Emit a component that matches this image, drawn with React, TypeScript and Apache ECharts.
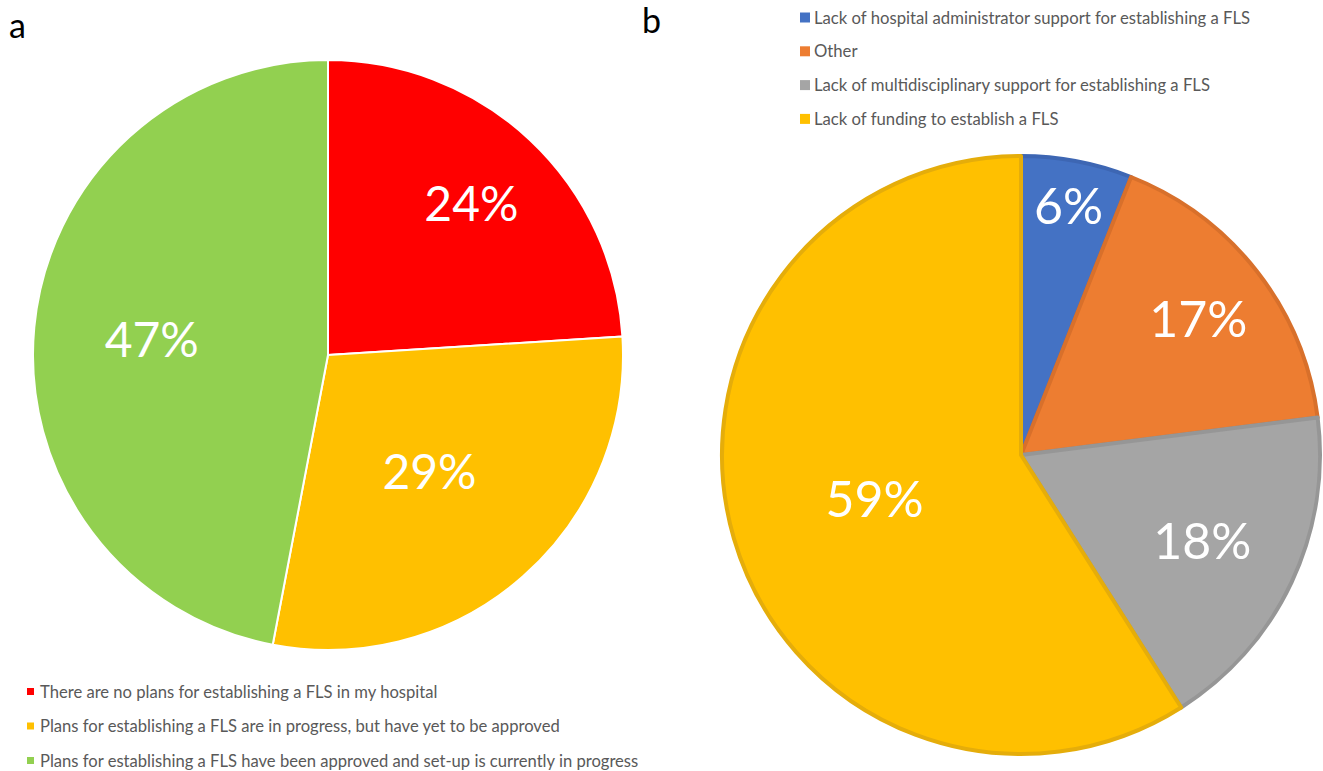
import React, { useEffect, useRef } from "react";
import * as echarts from "echarts";

// Panel a
const categoriesA = [
  "There are no plans for establishing a FLS in my hospital",
  "Plans for establishing a FLS are in progress, but have yet to be approved",
  "Plans for establishing a FLS have been approved and set-up is currently in progress",
];
const valuesA = [24, 29, 47];

// Panel b
const categoriesB = [
  "Lack of hospital administrator support for establishing a FLS",
  "Other",
  "Lack of multidisciplinary support for establishing a FLS",
  "Lack of funding to establish a FLS",
];
const valuesB = [6, 17, 18, 59];

const colorsA = ["#FF0000", "#FFC000", "#92D050"];
const colorsB = ["#4472C4", "#ED7D31", "#A5A5A5", "#FFC000"];
const bordersB = ["#3D66B3", "#D8702B", "#969696", "#E5AD0A"];

// radial label placement (fraction of radius), like Excel's best fit
const labelPosA = [0.7, 0.51, 0.59];
const labelPosB = [0.84, 0.74, 0.66, 0.5];

const FONT = "Lato, 'Open Sans', sans-serif";

function labelSeries(
  cats: string[],
  vals: number[],
  center: number[],
  R: number,
  factors: number[],
  fontSize: number
) {
  return factors.map((f, i) => ({
    type: "pie",
    center,
    radius: f >= 0.5 ? [(2 * f - 1) * R, R] : [0, 2 * f * R],
    startAngle: 90,
    silent: true,
    avoidLabelOverlap: false,
    legendHoverLink: false,
    z: 5,
    itemStyle: { color: "rgba(0,0,0,0)", borderWidth: 0 },
    labelLine: { show: false },
    emphasis: { disabled: true },
    data: vals.map((v, j) => ({
      value: v,
      name: cats[j],
      label: {
        show: j === i,
        position: "inside",
        formatter: (p: any) => `${p.value}%`,
        color: "#FFFFFF",
        fontSize,
        fontFamily: FONT,
        fontWeight: "normal",
      },
    })),
  }));
}

export default function App() {
  const ref = useRef<HTMLDivElement>(null);

  useEffect(() => {
    if (!ref.current) return;
    const chart = echarts.init(ref.current, null, { renderer: "svg" });
    const centerA = [328, 355];
    const RA = 295;
    const centerB = [1021, 455];
    const RB = 299;

    const option: any = {
      animation: false,
      backgroundColor: "#FFFFFF",
      title: [
        {
          text: "a",
          left: 9,
          top: 7,
          padding: 0,
          textStyle: { fontSize: 34, fontWeight: "normal", color: "#000", fontFamily: FONT },
        },
        {
          text: "b",
          left: 642,
          top: 2,
          padding: 0,
          textStyle: { fontSize: 34, fontWeight: "normal", color: "#000", fontFamily: FONT },
        },
      ],
      legend: [
        {
          data: categoriesA,
          orient: "vertical",
          left: 22,
          top: 678,
          height: 100,
          icon: "rect",
          itemWidth: 7,
          itemHeight: 7,
          itemGap: 17.5,
          selectedMode: false,
          itemStyle: { borderWidth: 0 },
          textStyle: { color: "#595959", fontSize: 16.6, fontFamily: FONT, padding: [0, 0, 0, 1] },
        },
        {
          data: categoriesB,
          orient: "vertical",
          left: 795,
          top: 4,
          height: 140,
          icon: "rect",
          itemWidth: 10,
          itemHeight: 10,
          itemGap: 16.8,
          selectedMode: false,
          itemStyle: { borderWidth: 0 },
          textStyle: { color: "#595959", fontSize: 16.7, fontFamily: FONT, padding: [0, 0, 0, -1] },
        },
      ],
      series: [
        {
          type: "pie",
          center: centerA,
          radius: [0, RA],
          startAngle: 90,
          silent: true,
          avoidLabelOverlap: false,
          label: { show: false },
          labelLine: { show: false },
          itemStyle: { borderColor: "#FFFFFF", borderWidth: 2 },
          data: valuesA.map((v, i) => ({
            value: v,
            name: categoriesA[i],
            itemStyle: { color: colorsA[i] },
          })),
        },
        {
          type: "pie",
          center: centerB,
          radius: [0, RB],
          startAngle: 90,
          silent: true,
          avoidLabelOverlap: false,
          label: { show: false },
          labelLine: { show: false },
          data: valuesB.map((v, i) => ({
            value: v,
            name: categoriesB[i],
            itemStyle: { color: colorsB[i], borderColor: bordersB[i], borderWidth: 4 },
          })),
        },
        ...labelSeries(categoriesA, valuesA, centerA, RA, labelPosA, 48),
        ...labelSeries(categoriesB, valuesB, centerB, RB, labelPosB, 50),
      ],
    };
    chart.setOption(option);
    return () => chart.dispose();
  }, []);

  return (
    <div
      ref={ref}
      style={{ position: "fixed", left: 0, top: 0, width: 1323, height: 771, background: "#fff" }}
    />
  );
}
